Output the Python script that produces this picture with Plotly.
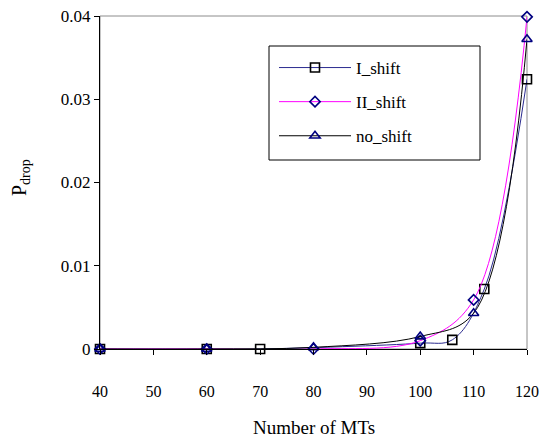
import plotly.graph_objects as go

# Data
x_i = [40, 60, 70, 100, 106, 112, 120]
y_i = [0.0, 0.0, 0.0, 0.0007, 0.0011, 0.0072, 0.0324]

x_ii = [40, 60, 80, 100, 110, 120]
y_ii = [0.0, 0.0, 0.0, 0.001, 0.0059, 0.0399]

x_no = [40, 60, 80, 100, 110, 120]
y_no = [0.0, 0.0, 0.0002, 0.0015, 0.0043, 0.0372]

x_ticks = [40, 50, 60, 70, 80, 90, 100, 110, 120]
y_ticks = [0, 0.01, 0.02, 0.03, 0.04]
y_ticktext = ["0", "0.01", "0.02", "0.03", "0.04"]

FONT = "Liberation Serif, Times New Roman, serif"

# the page body adds an 8px margin around the figure
OFF = 8
W, H = 548 - OFF, 446 - 2 * OFF
# target plot area in window pixels (right edge kept clear of the clip at 540)
PL, PR, PT, PB = 100, 527, 16, 349

def px_x(p):
    return (p - PL) / float(PR - PL)

def px_y(p):
    return (PB - p) / float(PB - PT)

fig = go.Figure()
fig.add_trace(go.Scatter(
    x=x_i, y=y_i, name="I_shift", mode="lines+markers", legendgroup="a", cliponaxis=False,
    line=dict(color="#2B2B8F", width=1, shape="spline", smoothing=1),
    marker=dict(symbol="square-open", size=9, color="black", line=dict(width=1.6, color="black")),
))
fig.add_trace(go.Scatter(
    x=x_ii, y=y_ii, name="II_shift", mode="lines+markers", legendgroup="b", cliponaxis=False,
    line=dict(color="#FF00FF", width=1, shape="spline", smoothing=1),
    marker=dict(symbol="diamond-open", size=8, color="#000080", line=dict(width=1.6, color="#000080")),
))
fig.add_trace(go.Scatter(
    x=x_no, y=y_no, name="no_shift", mode="lines+markers", legendgroup="c", cliponaxis=False,
    line=dict(color="black", width=1, shape="spline", smoothing=1),
    marker=dict(symbol="triangle-up-open", size=9, color="#000080", line=dict(width=1.6, color="#000080")),
))

fig.update_layout(
    width=W, height=H,
    margin=dict(l=PL - OFF, r=548 - PR, t=PT - OFF, b=(OFF + H) - PB),
    paper_bgcolor="white", plot_bgcolor="white",
    font=dict(family=FONT, size=17, color="black"),
    showlegend=True,
    legend=dict(
        x=px_x(274), y=px_y(50), xanchor="left", yanchor="top",
        bgcolor="rgba(0,0,0,0)", borderwidth=0,
        font=dict(family=FONT, size=17),
        tracegroupgap=9, itemwidth=72,
    ),
    shapes=[
        dict(type="rect", xref="paper", yref="paper", x0=0, x1=1, y0=0, y1=1,
             line=dict(color="#8C8C8C", width=1), layer="below"),
        dict(type="rect", xref="paper", yref="paper",
             x0=px_x(269), x1=px_x(480), y0=px_y(160), y1=px_y(46),
             line=dict(color="black", width=1), fillcolor="white", layer="below"),
    ],
    annotations=[
        dict(text="Number of MTs", xref="paper", yref="paper", x=px_x(314), y=px_y(427),
             xanchor="center", yanchor="middle", showarrow=False,
             font=dict(family=FONT, size=19)),
        dict(text="P<sub>drop</sub>", xref="paper", yref="paper", x=px_x(20), y=px_y(178),
             xanchor="center", yanchor="middle", showarrow=False, textangle=-90,
             font=dict(family=FONT, size=20)),
    ],
)

fig.update_xaxes(
    range=[40, 120], tickvals=x_ticks, showgrid=False, zeroline=False, automargin=False,
    showline=True, linecolor="black", linewidth=1,
    ticks="outside", ticklen=5, tickcolor="black", ticklabeloverflow="allow",
    ticklabelstandoff=23, tickfont=dict(family=FONT, size=16),
)
fig.update_yaxes(
    range=[0, 0.04], tickvals=y_ticks, ticktext=y_ticktext, showgrid=False, zeroline=False,
    automargin=False,
    showline=True, linecolor="black", linewidth=1,
    ticks="outside", ticklen=5, tickcolor="black", ticklabeloverflow="allow",
    tickfont=dict(family=FONT, size=17),
)

fig.write_html("out.html")
